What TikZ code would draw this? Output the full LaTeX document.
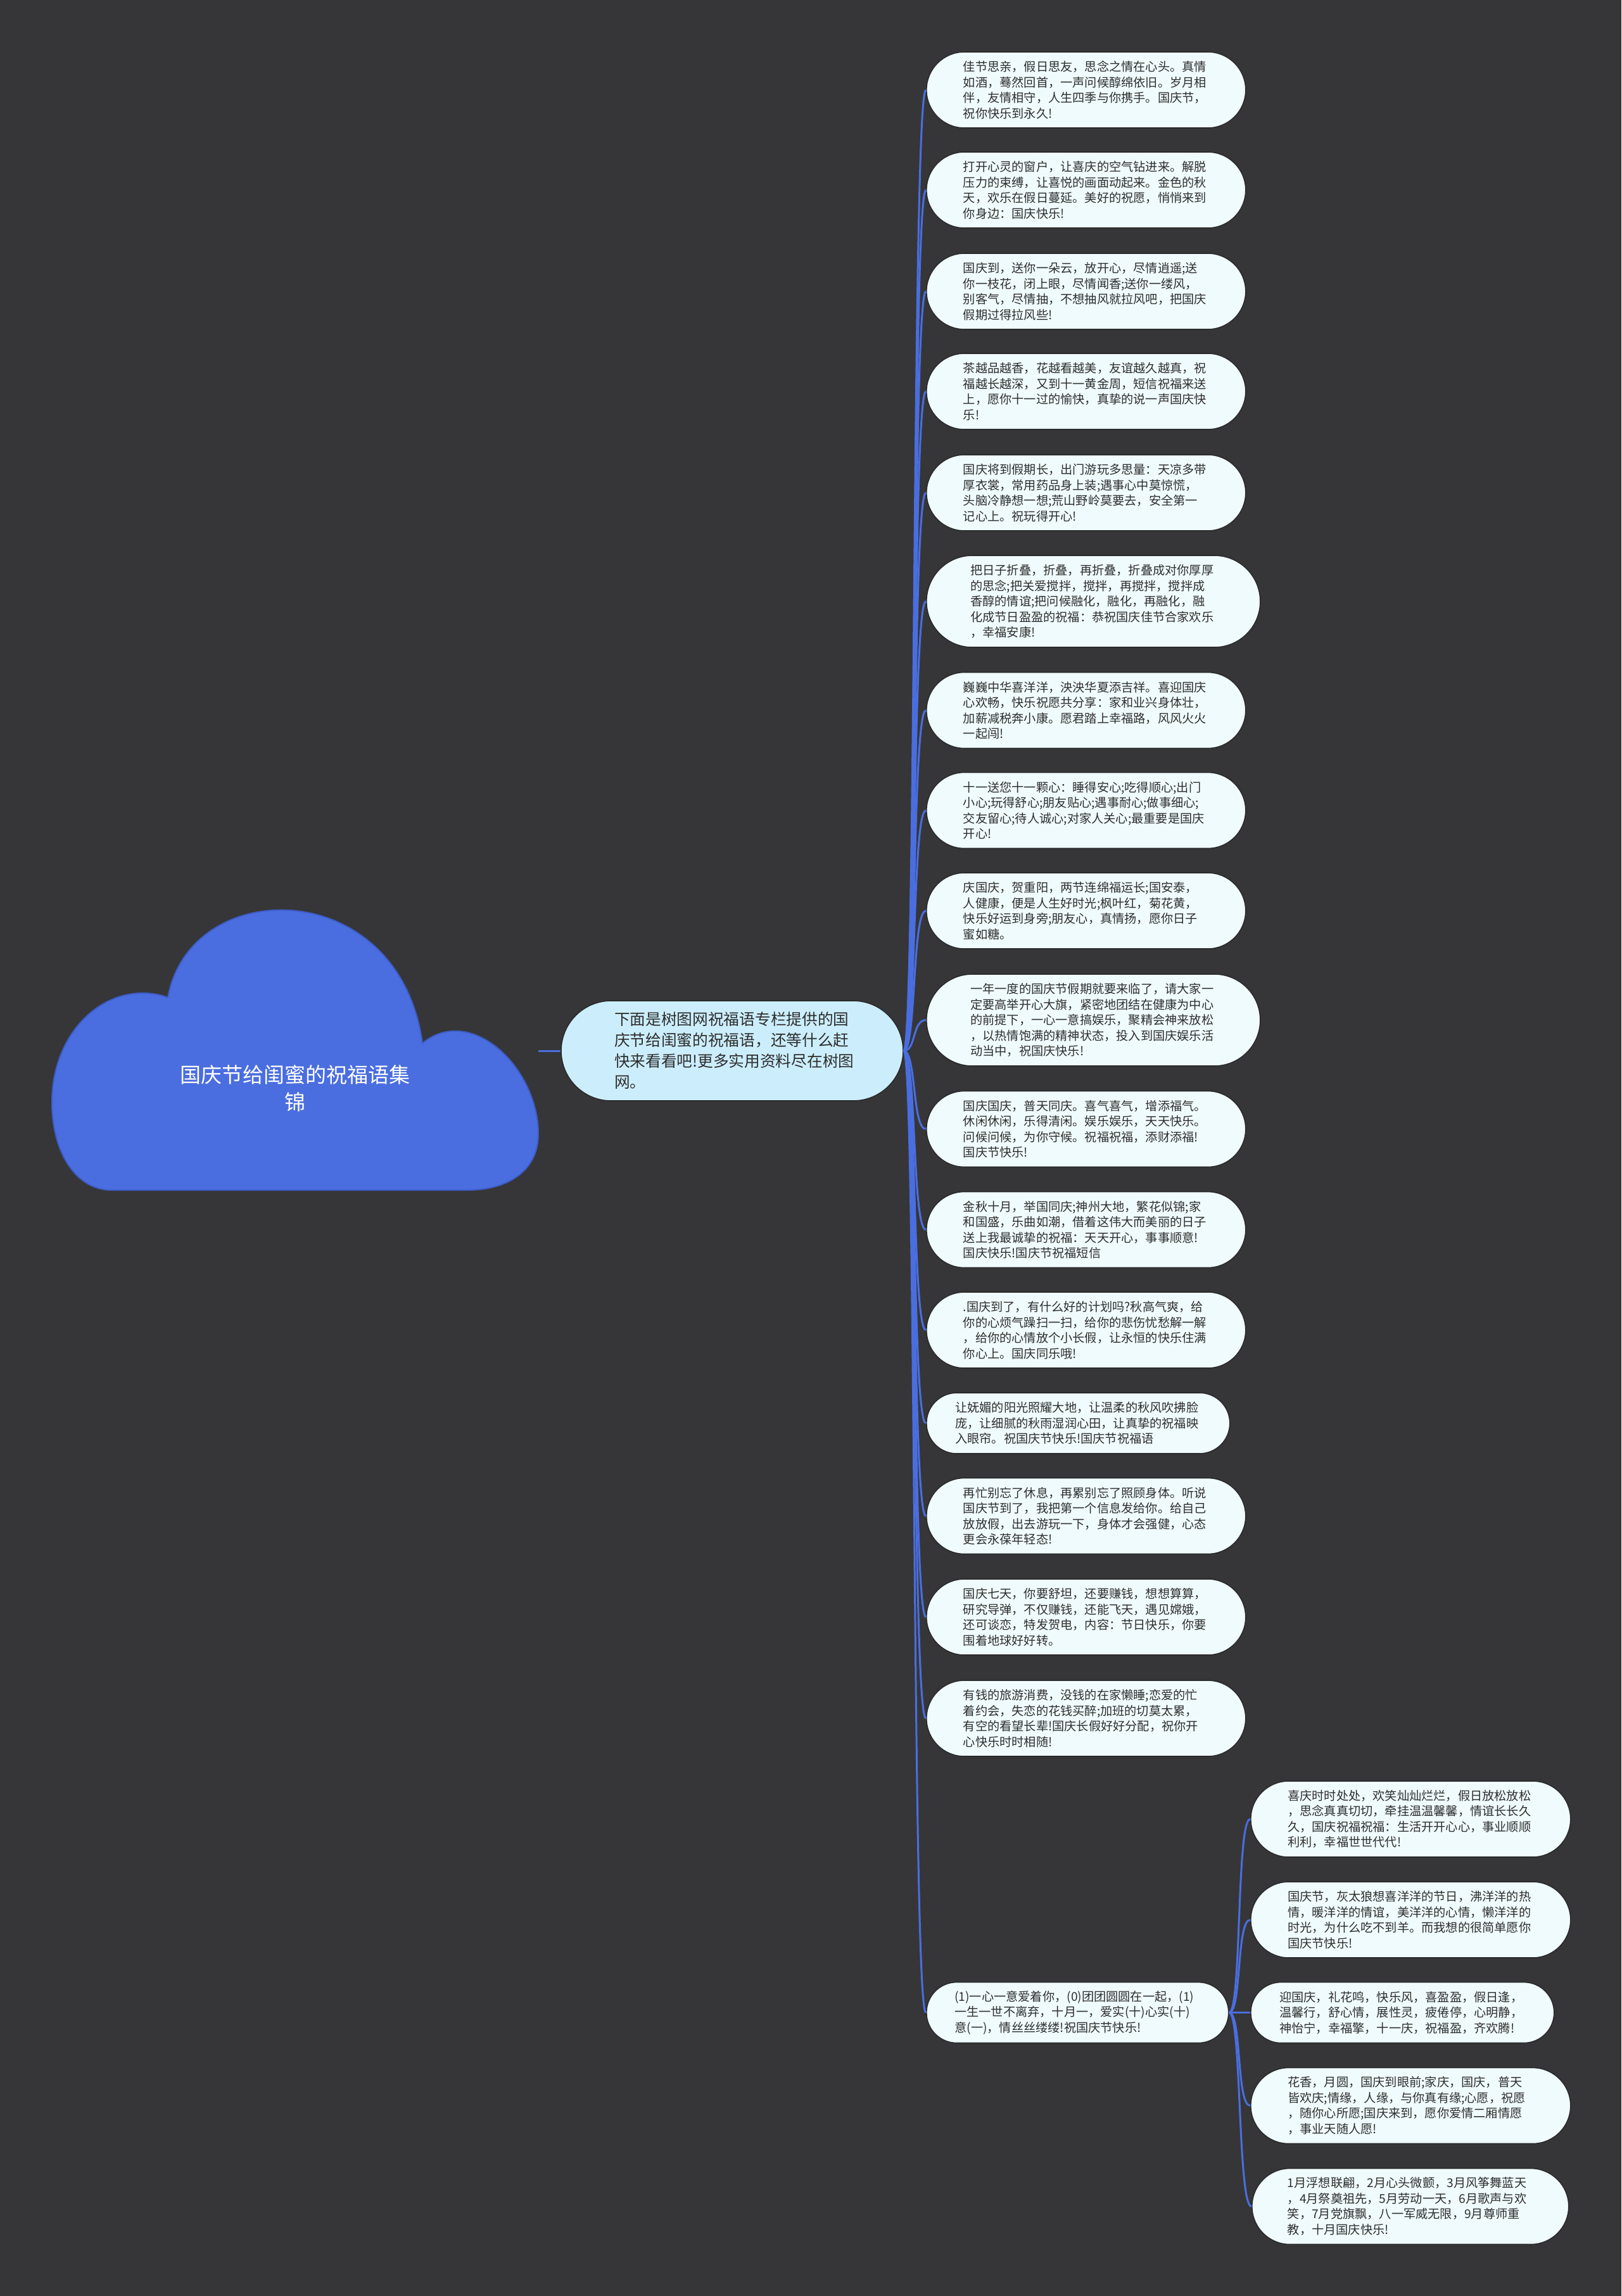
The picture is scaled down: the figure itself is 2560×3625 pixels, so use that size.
\documentclass[tikz,border=0pt]{standalone}
\usepackage{fontspec}
\newfontfamily\cjk{Noto Sans CJK SC}
\usetikzlibrary{calc}
\definecolor{bgc}{HTML}{363638}
\definecolor{leaffill}{HTML}{F0FBFD}
\definecolor{centerfill}{HTML}{CCEEFC}
\definecolor{rootblue}{HTML}{4A6EE0}
\definecolor{rootedge}{HTML}{3D5CC4}
\definecolor{connc}{HTML}{4A6EE0}
\definecolor{edgec}{HTML}{2A2A2A}
\definecolor{txt}{HTML}{2E2E2E}
\tikzset{
  leaf/.style={draw=edgec, line width=0.8pt, fill=leaffill, text=txt, text width=194pt, align=left,
    inner sep=0pt, anchor=west, font=\cjk\fontsize{9.6pt}{12.25pt}\selectfont,
    minimum width=252pt, minimum height=60pt, rounded corners=30pt},
  tall/.style={minimum width=263.5pt, minimum height=72.5pt, rounded corners=36.25pt},
  short/.style={minimum width=239.5pt, minimum height=48pt, rounded corners=24pt},
  centernode/.style={draw=edgec, line width=0.8pt, fill=centerfill, text=txt, text width=186pt, align=left,
    inner sep=0pt, font=\cjk\fontsize{12.35pt}{16.5pt}\selectfont,
    minimum width=270pt, minimum height=79pt, rounded corners=39.5pt},
  rootlabel/.style={text=white, align=center, font=\cjk\fontsize{16.5pt}{21.5pt}\selectfont},
  conn/.style={draw=connc, line width=1.5pt}
}
\begin{document}
\begin{tikzpicture}[x=0.5pt, y=-0.5pt]
\fill[bgc] (0,0) rectangle (2560,3625);
\useasboundingbox (0,0) rectangle (2560,3625);
% root cloud
\filldraw[fill=rootblue, draw=rootedge, line width=1pt]
  (265,1575) .. controls (300,1380) and (630,1380) .. (667,1647)
  .. controls (690,1628) and (715,1625) .. (738,1630)
  .. controls (800,1645) and (850,1720) .. (850,1790)
  .. controls (850,1850) and (800,1879) .. (738,1879)
  -- (176,1879)
  .. controls (120,1879) and (82,1820) .. (82,1740)
  .. controls (82,1640) and (150,1565) .. (230,1568)
  .. controls (248,1569) and (258,1572) .. cycle;
\node[rootlabel] (root) at (466,1718) {国庆节给闺蜜的祝福语集\\锦};
\coordinate (rootE) at (850,1659);
% center
\node[centernode] (c) at (1156,1659) {下面是树图网祝福语专栏提供的国\\庆节给闺蜜的祝福语，还等什么赶\\快来看看吧!更多实用资料尽在树图\\网。};
% leaves
\node[leaf] (n1) at (1462,142) {佳节思亲，假日思友，思念之情在心头。真情\\如酒，蓦然回首，一声问候醇绵依旧。岁月相\\伴，友情相守，人生四季与你携手。国庆节，\\祝你快乐到永久!};
\node[leaf] (n2) at (1462,300) {打开心灵的窗户，让喜庆的空气钻进来。解脱\\压力的束缚，让喜悦的画面动起来。金色的秋\\天，欢乐在假日蔓延。美好的祝愿，悄悄来到\\你身边：国庆快乐!};
\node[leaf] (n3) at (1462,460) {国庆到，送你一朵云，放开心，尽情逍遥;送\\你一枝花，闭上眼，尽情闻香;送你一缕风，\\别客气，尽情抽，不想抽风就拉风吧，把国庆\\假期过得拉风些!};
\node[leaf] (n4) at (1462,618) {茶越品越香，花越看越美，友谊越久越真，祝\\福越长越深，又到十一黄金周，短信祝福来送\\上，愿你十一过的愉快，真挚的说一声国庆快\\乐!};
\node[leaf] (n5) at (1462,778) {国庆将到假期长，出门游玩多思量：天凉多带\\厚衣裳，常用药品身上装;遇事心中莫惊慌，\\头脑冷静想一想;荒山野岭莫要去，安全第一\\记心上。祝玩得开心!};
\node[leaf,tall] (n6) at (1462,949.5) {把日子折叠，折叠，再折叠，折叠成对你厚厚\\的思念;把关爱搅拌，搅拌，再搅拌，搅拌成\\香醇的情谊;把问候融化，融化，再融化，融\\化成节日盈盈的祝福：恭祝国庆佳节合家欢乐\\，幸福安康!};
\node[leaf] (n7) at (1462,1121.5) {巍巍中华喜洋洋，泱泱华夏添吉祥。喜迎国庆\\心欢畅，快乐祝愿共分享：家和业兴身体壮，\\加薪减税奔小康。愿君踏上幸福路，风风火火\\一起闯!};
\node[leaf] (n8) at (1462,1279.5) {十一送您十一颗心：睡得安心;吃得顺心;出门\\小心;玩得舒心;朋友贴心;遇事耐心;做事细心;\\交友留心;待人诚心;对家人关心;最重要是国庆\\开心!};
\node[leaf] (n9) at (1462,1438) {庆国庆，贺重阳，两节连绵福运长;国安泰，\\人健康，便是人生好时光;枫叶红，菊花黄，\\快乐好运到身旁;朋友心，真情扬，愿你日子\\蜜如糖。};
\node[leaf,tall] (n10) at (1462,1610.5) {一年一度的国庆节假期就要来临了，请大家一\\定要高举开心大旗，紧密地团结在健康为中心\\的前提下，一心一意搞娱乐，聚精会神来放松\\，以热情饱满的精神状态，投入到国庆娱乐活\\动当中，祝国庆快乐!};
\node[leaf] (n11) at (1462,1782.5) {国庆国庆，普天同庆。喜气喜气，增添福气。\\休闲休闲，乐得清闲。娱乐娱乐，天天快乐。\\问候问候，为你守候。祝福祝福，添财添福!\\国庆节快乐!};
\node[leaf] (n12) at (1462,1941.5) {金秋十月，举国同庆;神州大地，繁花似锦;家\\和国盛，乐曲如潮，借着这伟大而美丽的日子\\送上我最诚挚的祝福：天天开心，事事顺意!\\国庆快乐!国庆节祝福短信};
\node[leaf] (n13) at (1462,2100) {.国庆到了，有什么好的计划吗?秋高气爽，给\\你的心烦气躁扫一扫，给你的悲伤忧愁解一解\\，给你的心情放个小长假，让永恒的快乐住满\\你心上。国庆同乐哦!};
\node[leaf,short] (n14) at (1462,2247) {让妩媚的阳光照耀大地，让温柔的秋风吹拂脸\\庞，让细腻的秋雨湿润心田，让真挚的祝福映\\入眼帘。祝国庆节快乐!国庆节祝福语};
\node[leaf] (n15) at (1462,2393.5) {再忙别忘了休息，再累别忘了照顾身体。听说\\国庆节到了，我把第一个信息发给你。给自己\\放放假，出去游玩一下，身体才会强健，心态\\更会永葆年轻态!};
\node[leaf] (n16) at (1462,2553) {国庆七天，你要舒坦，还要赚钱，想想算算，\\研究导弹，不仅赚钱，还能飞天，遇见嫦娥，\\还可谈恋，特发贺电，内容：节日快乐，你要\\围着地球好好转。};
\node[leaf] (n17) at (1462,2713) {有钱的旅游消费，没钱的在家懒睡;恋爱的忙\\着约会，失恋的花钱买醉;加班的切莫太累，\\有空的看望长辈!国庆长假好好分配，祝你开\\心快乐时时相随!};
\node[leaf,short,minimum width=238.5pt] (n18) at (1462,3177.5) {(1)一心一意爱着你，(0)团团圆圆在一起，(1)\\一生一世不离弃，十月一，爱实(十)心实(十)\\意(一)，情丝丝缕缕!祝国庆节快乐!};
% sub leaves
\node[leaf,minimum width=252.5pt] (s1) at (1974,2872) {喜庆时时处处，欢笑灿灿烂烂，假日放松放松\\，思念真真切切，牵挂温温馨馨，情谊长长久\\久，国庆祝福祝福：生活开开心心，事业顺顺\\利利，幸福世世代代!};
\node[leaf,minimum width=252.5pt] (s2) at (1974,3031) {国庆节，灰太狼想喜洋洋的节日，沸洋洋的热\\情，暖洋洋的情谊，美洋洋的心情，懒洋洋的\\时光，为什么吃不到羊。而我想的很简单愿你\\国庆节快乐!};
\node[leaf,short] (s3) at (1974,3177.5) {迎国庆，礼花鸣，快乐风，喜盈盈，假日逢，\\温馨行，舒心情，展性灵，疲倦停，心明静，\\神怡宁，幸福擎，十一庆，祝福盈，齐欢腾!};
\node[leaf,minimum width=252.5pt] (s4) at (1974,3324.5) {花香，月圆，国庆到眼前;家庆，国庆，普天\\皆欢庆;情缘，人缘，与你真有缘;心愿，祝愿\\，随你心所愿;国庆来到，愿你爱情二厢情愿\\，事业天随人愿!};
\node[leaf,minimum width=250pt] (s5) at (1976,3483.5) {1月浮想联翩，2月心头微颤，3月风筝舞蓝天\\，4月祭奠祖先，5月劳动一天，6月歌声与欢\\笑，7月党旗飘，八一军威无限，9月尊师重\\教，十月国庆快乐!};
% connectors
\draw[conn] (rootE) -- (c.west);
\foreach \n in {n1,n2,n3,n4,n5,n6,n7,n8,n9,n10,n11,n12,n13,n14,n15,n16,n17,n18}
  \draw[conn] (c.east) .. controls +(20,0) and +(-22,0) .. (\n.west);
\foreach \n in {s1,s2,s3,s4,s5}
  \draw[conn] (n18.east) .. controls +(20,0) and +(-22,0) .. (\n.west);
\end{tikzpicture}
\end{document}
